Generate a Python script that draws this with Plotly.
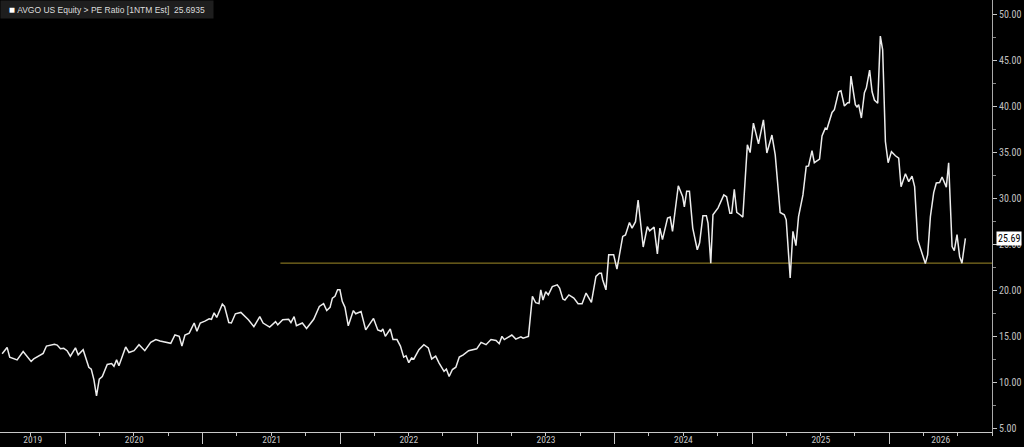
import pandas as pd
import plotly.graph_objects as go

# ---- data ----
# time as decimal years
T = [
    2019.539, 2019.575, 2019.594, 2019.648, 2019.692, 2019.750, 2019.769, 2019.806, 2019.838, 2019.862,
    2019.920, 2019.940, 2019.964, 2019.988, 2020.012, 2020.036, 2020.073, 2020.093, 2020.129, 2020.170,
    2020.188, 2020.207, 2020.226, 2020.246, 2020.268, 2020.304, 2020.336, 2020.353, 2020.372, 2020.389,
    2020.438, 2020.462, 2020.499, 2020.535, 2020.577, 2020.620, 2020.657, 2020.688, 2020.766, 2020.796,
    2020.827, 2020.847, 2020.869, 2020.900, 2020.936, 2020.956, 2020.980, 2021.014, 2021.045, 2021.062,
    2021.081, 2021.100, 2021.141, 2021.157, 2021.188, 2021.207, 2021.236, 2021.276, 2021.307, 2021.331,
    2021.371, 2021.414, 2021.438, 2021.486, 2021.529, 2021.545, 2021.581, 2021.624, 2021.641, 2021.664,
    2021.681, 2021.724, 2021.755, 2021.807, 2021.848, 2021.879, 2021.902, 2021.926, 2021.943, 2021.962,
    2021.981, 2021.998, 2022.015, 2022.035, 2022.059, 2022.096, 2022.113, 2022.152, 2022.186, 2022.243,
    2022.274, 2022.299, 2022.311, 2022.329, 2022.365, 2022.385, 2022.414, 2022.439, 2022.463, 2022.480,
    2022.500, 2022.520, 2022.537, 2022.574, 2022.610, 2022.642, 2022.667, 2022.696, 2022.721, 2022.757,
    2022.774, 2022.794, 2022.818, 2022.843, 2022.868, 2022.897, 2022.936, 2022.978, 2022.995, 2023.027,
    2023.063, 2023.099, 2023.136, 2023.159, 2023.179, 2023.196, 2023.251, 2023.280, 2023.317, 2023.333,
    2023.372, 2023.401, 2023.425, 2023.449, 2023.462, 2023.478, 2023.498, 2023.517, 2023.546, 2023.582,
    2023.599, 2023.623, 2023.638, 2023.667, 2023.703, 2023.734, 2023.763, 2023.792, 2023.831, 2023.864,
    2023.889, 2023.904, 2023.913, 2023.937, 2023.957, 2023.993, 2024.017, 2024.059, 2024.079, 2024.108,
    2024.127, 2024.152, 2024.171, 2024.208, 2024.238, 2024.255, 2024.287, 2024.311, 2024.329, 2024.348,
    2024.385, 2024.404, 2024.421, 2024.463, 2024.495, 2024.507, 2024.524, 2024.544, 2024.568, 2024.601,
    2024.618, 2024.642, 2024.667, 2024.679, 2024.699, 2024.715, 2024.752, 2024.794, 2024.814, 2024.838,
    2024.851, 2024.870, 2024.888, 2024.912, 2024.932, 2024.965, 2024.985, 2025.009, 2025.046, 2025.082,
    2025.107, 2025.144, 2025.168, 2025.204, 2025.234, 2025.248, 2025.277, 2025.297, 2025.319, 2025.338,
    2025.363, 2025.370, 2025.394, 2025.411, 2025.436, 2025.453, 2025.491, 2025.509, 2025.533, 2025.545,
    2025.582, 2025.599, 2025.630, 2025.647, 2025.672, 2025.696, 2025.708, 2025.720, 2025.752, 2025.764,
    2025.776, 2025.796, 2025.818, 2025.832, 2025.856, 2025.874, 2025.891, 2025.915, 2025.934, 2025.951,
    2025.971, 2025.991, 2026.015, 2026.044, 2026.068, 2026.085, 2026.117, 2026.141, 2026.165, 2026.184,
    2026.206, 2026.262, 2026.279, 2026.299, 2026.323, 2026.342, 2026.366, 2026.384, 2026.415, 2026.432,
    2026.457, 2026.473, 2026.493, 2026.512, 2026.529, 2026.554,
]

PE = [
    13.17, 13.85, 12.80, 12.50, 13.40, 12.33, 12.60, 12.90, 13.20, 14.00,
    14.20, 14.10, 13.70, 13.75, 13.50, 12.90, 13.80, 13.05, 13.60, 11.70,
    11.50, 10.35, 8.60, 10.40, 10.70, 12.00, 12.10, 11.80, 12.50, 11.85,
    13.90, 13.30, 13.50, 14.15, 13.50, 14.40, 14.70, 14.55, 14.30, 15.20,
    15.05, 14.00, 15.20, 15.40, 16.50, 15.60, 16.50, 16.70, 16.95, 16.90,
    17.60, 17.10, 18.55, 18.30, 16.55, 16.50, 17.50, 17.65, 17.20, 16.85,
    16.10, 17.20, 16.50, 16.05, 16.65, 16.30, 16.85, 16.90, 16.55, 17.20,
    16.20, 16.50, 15.90, 16.90, 18.30, 18.60, 17.85, 18.20, 19.20, 19.40,
    20.10, 20.10, 18.85, 18.20, 16.20, 17.85, 17.50, 17.75, 15.75, 17.00,
    15.75, 15.60, 15.85, 15.05, 15.85, 14.70, 14.70, 14.00, 12.80, 12.95,
    12.20, 12.70, 12.60, 13.60, 14.15, 13.80, 12.60, 12.90, 12.15, 11.25,
    11.50, 10.70, 11.45, 11.70, 12.80, 13.05, 13.50, 13.60, 13.70, 14.40,
    14.15, 14.70, 14.60, 14.25, 15.05, 14.70, 15.20, 14.75, 15.00, 14.85,
    15.05, 19.40, 18.70, 18.60, 20.10, 19.00, 19.90, 19.55, 20.45, 20.65,
    20.30, 19.10, 19.00, 19.55, 19.20, 18.60, 18.60, 19.75, 18.75, 21.55,
    21.90, 21.90, 21.20, 20.10, 23.90, 23.90, 22.35, 25.90, 26.05, 27.40,
    26.80, 27.50, 29.85, 24.75, 26.95, 26.50, 26.90, 24.00, 26.80, 25.55,
    27.90, 28.00, 26.45, 31.40, 30.20, 29.10, 30.80, 30.80, 26.80, 24.45,
    25.20, 28.15, 28.15, 27.35, 23.00, 28.25, 29.00, 30.40, 30.20, 28.40,
    28.40, 31.00, 28.50, 28.25, 28.00, 35.85, 35.00, 38.20, 35.95, 38.55,
    34.95, 36.90, 34.75, 28.50, 28.25, 27.70, 21.40, 26.45, 24.90, 28.05,
    29.85, 30.40, 33.50, 33.55, 35.20, 33.90, 34.30, 36.80, 37.65, 37.55,
    39.35, 39.65, 41.60, 41.70, 40.05, 40.40, 40.40, 43.30, 40.20, 39.95,
    40.20, 38.75, 41.50, 42.00, 43.95, 41.60, 40.70, 40.35, 47.65, 46.15,
    36.20, 33.90, 35.10, 34.65, 34.40, 31.30, 32.70, 31.85, 32.45, 31.30,
    25.55, 22.95, 23.90, 28.05, 30.65, 31.70, 31.75, 32.35, 31.25, 33.90,
    24.80, 24.35, 26.10, 23.70, 23.00, 25.69,
]

LAST_VALUE = 25.6935
SERIES_TITLE = "AVGO US Equity > PE Ratio [1NTM Est]"
HLINE_VALUE = 23.0
HLINE_START = "2021-07-26"
X_START = "2019-07-11"
X_END = "2026-10-01"
YEARS = [2019, 2020, 2021, 2022, 2023, 2024, 2025, 2026]
Y_TICKS = [5, 10, 15, 20, 25, 30, 35, 40, 45, 50]


def dec_to_ts(d):
    y = int(d)
    s = pd.Timestamp(year=y, month=1, day=1)
    e = pd.Timestamp(year=y + 1, month=1, day=1)
    return s + (e - s) * (d - y)


dates = [dec_to_ts(d) for d in T]

# year label positions: centre of each year's visible span
xs, xe = pd.Timestamp(X_START), pd.Timestamp(X_END)
label_pos = []
for yr in YEARS:
    a = max(pd.Timestamp(year=yr, month=1, day=1), xs)
    b = min(pd.Timestamp(year=yr + 1, month=1, day=1), xe)
    label_pos.append(a + (b - a) / 2)

NARROW = "Liberation Sans Narrow, Arial Narrow, Roboto Condensed, Liberation Sans, sans-serif"
REG = "Liberation Sans, Arial, sans-serif"
AX = "#c8c8c8"

fig = go.Figure()
fig.add_trace(go.Scatter(
    x=[HLINE_START, X_END], y=[HLINE_VALUE, HLINE_VALUE], mode="lines",
    line=dict(color="#a08c28", width=1), hoverinfo="skip", showlegend=False,
))
fig.add_trace(go.Scatter(
    x=dates, y=PE, mode="lines",
    line=dict(color="#ececec", width=1.5), showlegend=False,
))
# invisible trace to activate the label axis
fig.add_trace(go.Scatter(x=[X_START], y=[None], xaxis="x2", showlegend=False, hoverinfo="skip"))

fig.update_layout(
    width=1024, height=447,
    margin=dict(l=0, r=32, t=0, b=15),
    paper_bgcolor="black", plot_bgcolor="black",
    font=dict(family=NARROW, color="#c8c8c8", size=10),
    xaxis=dict(
        type="date", range=[X_START, X_END],
        tickvals=[pd.Timestamp(year=y, month=1, day=1) for y in YEARS[1:]],
        showticklabels=False, ticks="outside", ticklen=11, tickcolor=AX, tickwidth=1,
        minor=dict(dtick="M3", tick0="2019-01-01", ticks="outside", ticklen=3, tickcolor=AX, tickwidth=1),
        showline=True, linecolor=AX, linewidth=1, showgrid=False, zeroline=False,
        automargin=False,
    ),
    xaxis2=dict(
        type="date", range=[X_START, X_END], overlaying="x", side="bottom", anchor="y",
        tickvals=label_pos, ticktext=[str(y) for y in YEARS],
        ticks="", ticklen=0,
        tickfont=dict(family=NARROW, size=9.5, color="#c8c8c8"),
        showline=False, showgrid=False, zeroline=False, automargin=False,
    ),
    yaxis=dict(
        side="right", range=[4.67, 51.56],
        tickvals=Y_TICKS, tickformat=".2f",
        ticks="outside", ticklen=4, tickcolor=AX,
        minor=dict(dtick=2.5, tick0=2.5, ticks="outside", ticklen=3, tickcolor="#888"),
        showline=True, linecolor="#aaaaaa", linewidth=1, showgrid=False, zeroline=False,
        tickfont=dict(family=NARROW, size=10, color="#c0c0c0"),
        automargin=False,
    ),
    annotations=[
        dict(
            xref="paper", yref="paper", x=0, y=1, xanchor="left", yanchor="top",
            text=f"&nbsp;&nbsp;<span style='color:white;font-size:10px'>■</span>&nbsp;{SERIES_TITLE}&nbsp;&nbsp;{LAST_VALUE}&nbsp;&nbsp;",
            showarrow=False, bgcolor="#1e1e1e", borderpad=3,
            font=dict(family=REG, size=8.5, color="#dcdcdc"),
        ),
        dict(
            xref="paper", yref="y", x=1, y=PE[-1], xanchor="left", yanchor="middle",
            xshift=4, text=f"{PE[-1]:.2f}", showarrow=False, bgcolor="white",
            borderpad=1, font=dict(family=NARROW, size=10, color="black"),
        ),
    ],
)

fig.write_html("out.html")
